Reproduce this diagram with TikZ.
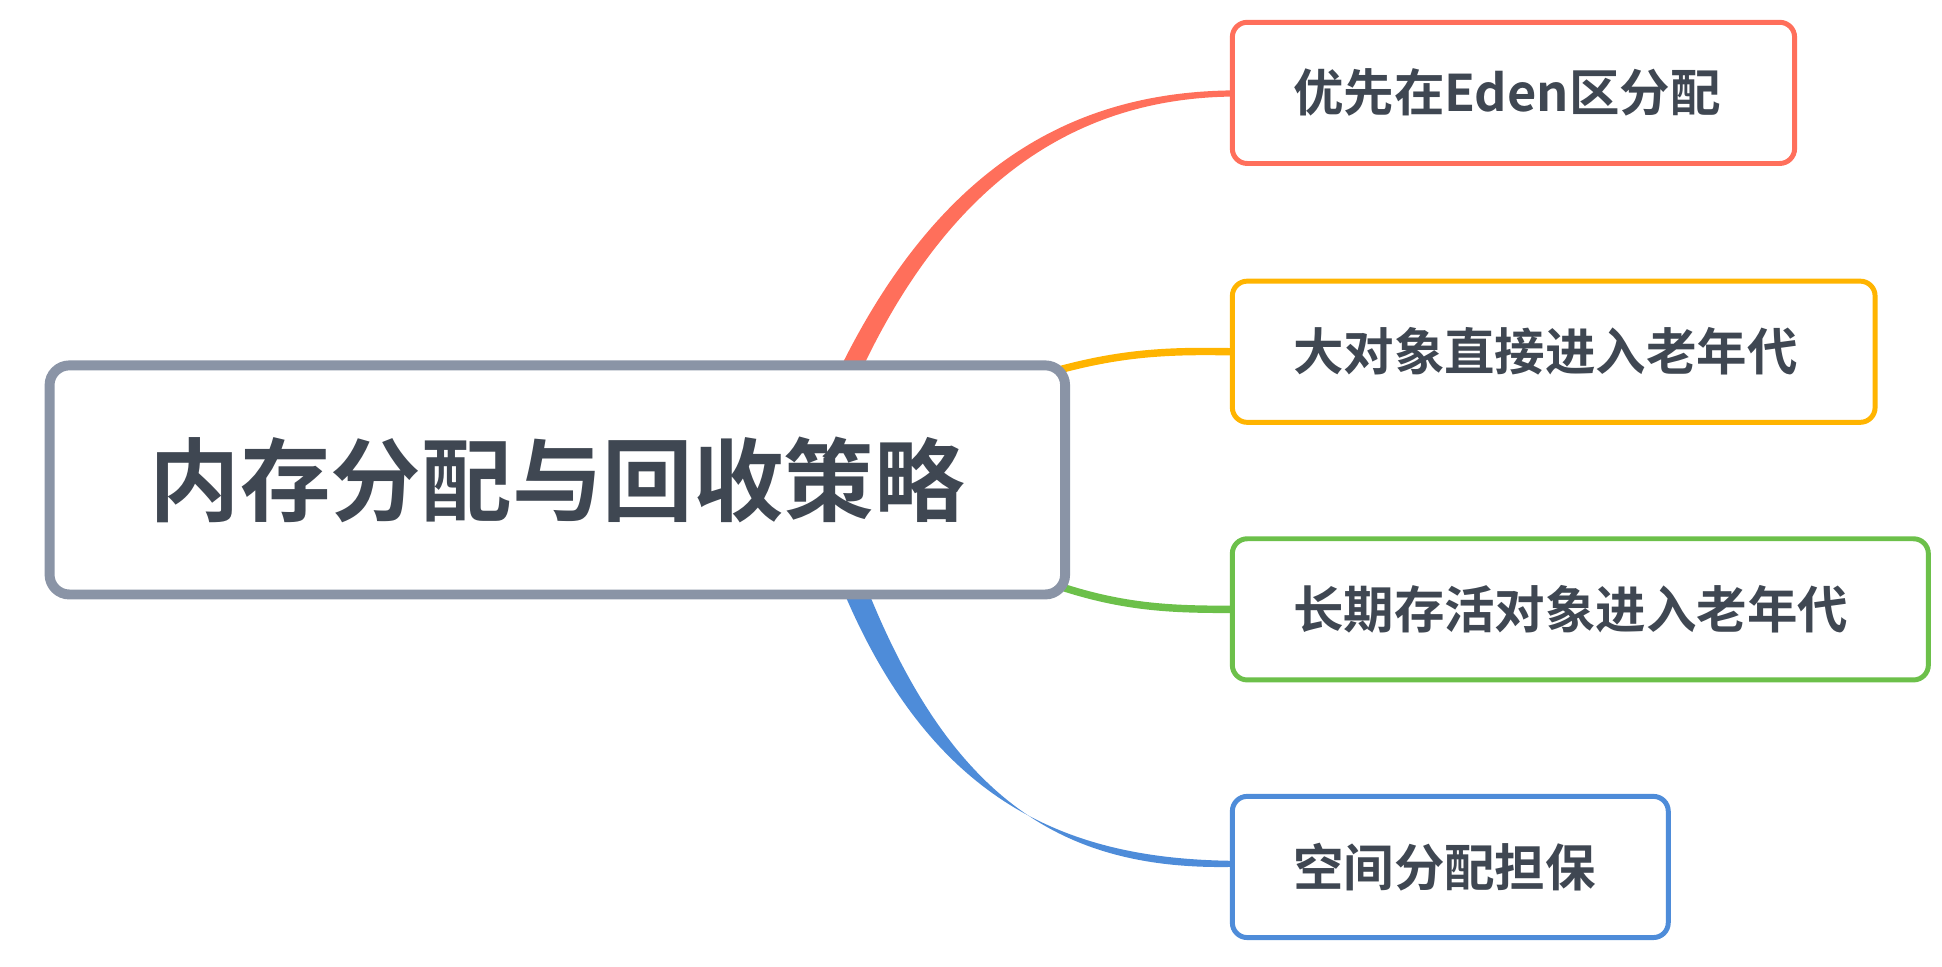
\documentclass[tikz,border=0pt]{standalone}
\usepackage{fontspec}
\setmainfont{Noto Sans CJK SC}[BoldFont={* Bold}]
\definecolor{txt}{HTML}{3F4752}
\definecolor{cgray}{HTML}{8A94A6}
\definecolor{cred}{HTML}{FF6F5B}
\definecolor{corange}{HTML}{FFB400}
\definecolor{cgreen}{HTML}{6CC04A}
\definecolor{cblue}{HTML}{4E8CD9}
\begin{document}
\begin{tikzpicture}[x=0.05cm,y=-0.05cm,
  child/.style={draw, line width=0.2cm, rounded corners=0.6cm, fill=white, anchor=west,
    minimum height=5.7cm, inner xsep=2.45cm, align=left, text=txt,
    font=\fontsize{58pt}{64pt}\selectfont\bfseries},
  link/.style={line width=0.3cm}]
\useasboundingbox (0,0) rectangle (1568,780);
% connectors
\fill[cred] (677,300) .. controls (760,130) and (870,75) .. (993,73)
  -- (993,78) .. controls (875,80) and (770,140) .. (695,300) -- cycle;
\fill[cblue] (680,475) .. controls (755,655) and (870,693) .. (993,695)
  -- (993,700) .. controls (862,702) and (770,650) .. (700,475) -- cycle;
\node[child, draw=cred, text width=17.8cm] (c1) at (993,75) {优先在Eden区分配};
\node[child, draw=corange, text width=21.05cm] (c2) at (993,284) {大对象直接进入老年代};
\node[child, draw=cgreen, text width=23.2cm] (c3) at (993,492) {长期存活对象进入老年代};
\node[child, draw=cblue, text width=12.7cm] (c4) at (993,700) {空间分配担保};
\draw[link, corange] (840,303) .. controls (900,285) and (940,283) .. (c2.west);
\draw[link, cgreen] (840,468) .. controls (900,490) and (940,492) .. (c3.west);
\node[draw=cgray, line width=0.4cm, rounded corners=0.8cm, fill=white,
  minimum width=41cm, minimum height=9.25cm, text=txt,
  font=\fontsize{104pt}{110pt}\selectfont\bfseries] (root) at (450,387.5) {内存分配与回收策略};
\end{tikzpicture}
\end{document}
